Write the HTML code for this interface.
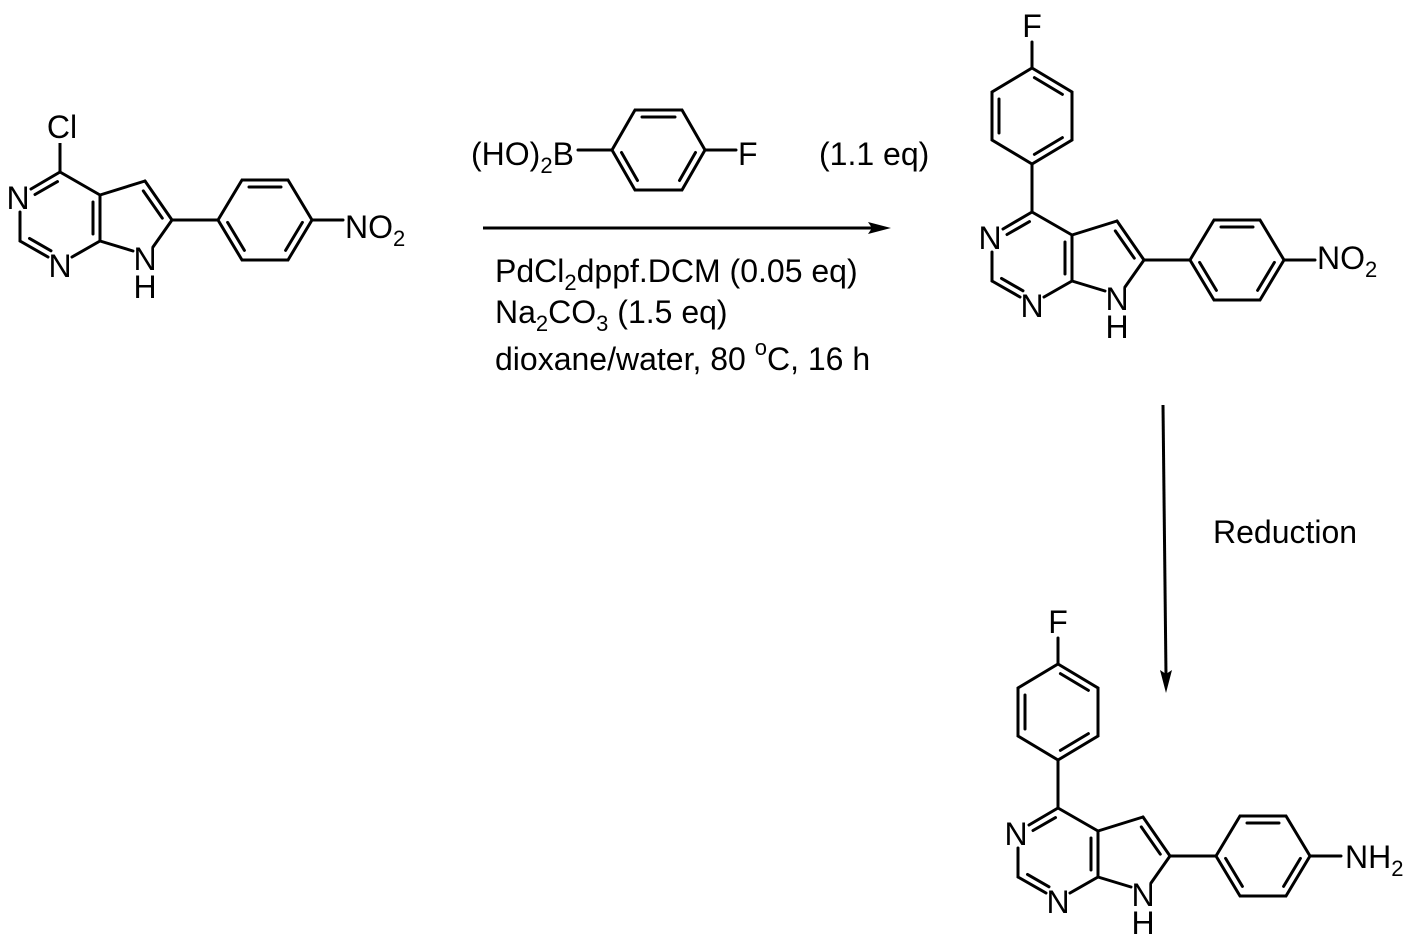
<!DOCTYPE html>
<html><head><meta charset="utf-8"><style>
html,body{margin:0;padding:0;background:#fff;}
svg{display:block;}
text{font-family:"Liberation Sans",Arial,sans-serif;fill:#000;}
</style></head><body>
<svg width="1414" height="945" viewBox="0 0 1414 945" xmlns="http://www.w3.org/2000/svg">
<defs>
<g id="core" stroke="#000" stroke-width="3" fill="none" stroke-linecap="round">
  <line x1="60" y1="172" x2="31" y2="189"/>
  <line x1="57.5" y1="181.6" x2="35" y2="194.5"/>
  <line x1="20" y1="212" x2="20" y2="241"/>
  <line x1="20" y1="241" x2="48" y2="257"/>
  <line x1="29.5" y1="238.4" x2="51" y2="250.8"/>
  <line x1="72" y1="257" x2="100" y2="241"/>
  <line x1="100" y1="241" x2="100" y2="195"/>
  <line x1="93" y1="202" x2="93" y2="234"/>
  <line x1="100" y1="195" x2="60" y2="172"/>
  <line x1="100" y1="195" x2="145" y2="181"/>
  <line x1="145" y1="181" x2="172" y2="220"/>
  <line x1="143.3" y1="190.9" x2="162.3" y2="218.2"/>
  <line x1="172" y1="220" x2="153" y2="247"/>
  <line x1="100" y1="241" x2="133" y2="251"/>
  <line x1="172" y1="220" x2="218" y2="220"/>
  <polygon points="218,220 242,180 288,180 312,220 288,260 242,260"/>
  <line x1="249" y1="187" x2="281" y2="187"/>
  <line x1="227.6" y1="222.4" x2="244.4" y2="250.4"/>
  <line x1="302.4" y1="222.4" x2="285.6" y2="250.4"/>
  <line x1="312" y1="220" x2="343" y2="220"/>
</g>
<g id="fph" stroke="#000" stroke-width="3" fill="none" stroke-linecap="round">
  <polygon points="60,28 100,52 100,100 60,124 20,100 20,52"/>
  <line x1="62.4" y1="37.6" x2="90.4" y2="54.4"/>
  <line x1="27" y1="59" x2="27" y2="93"/>
  <line x1="90.4" y1="97.6" x2="62.4" y2="114.4"/>
  <line x1="60" y1="124" x2="60" y2="172"/>
  <line x1="60" y1="28" x2="60" y2="2"/>
</g>
<g id="labels" font-size="32" text-anchor="middle">
  <text x="18" y="209">N</text>
  <text x="60" y="277">N</text>
  <text x="145" y="270">N</text>
  <text x="145" y="298">H</text>
</g>
</defs>

<use href="#core"/>
<use href="#labels"/>
<line x1="60" y1="172" x2="60" y2="143" stroke="#000" stroke-width="3"/>
<text x="62" y="138" font-size="32" text-anchor="middle">Cl</text>
<text x="345" y="238" font-size="32">NO<tspan font-size="22" dy="8">2</tspan></text>

<text x="471" y="165" font-size="32">(HO)<tspan font-size="22" dy="8">2</tspan><tspan dy="-8">B</tspan></text>
<g stroke="#000" stroke-width="3" fill="none" stroke-linecap="round">
  <line x1="578" y1="150" x2="612" y2="150"/>
  <polygon points="612,150 635,110 682,110 705,150 682,190 635,190"/>
  <line x1="642" y1="117" x2="675" y2="117"/>
  <line x1="621.5" y1="152.5" x2="637.5" y2="180.5"/>
  <line x1="695.5" y1="152.5" x2="679.5" y2="180.5"/>
  <line x1="705" y1="150" x2="736" y2="150"/>
</g>
<text x="738" y="165" font-size="32">F</text>
<text x="819" y="165" font-size="32">(1.1 eq)</text>

<line x1="483" y1="228" x2="875" y2="228" stroke="#000" stroke-width="3"/>
<polygon points="891,228 868,222 872,228 868,234" fill="#000"/>
<text x="495" y="282" font-size="32">PdCl<tspan font-size="22" dy="8">2</tspan><tspan dy="-8">dppf.DCM (0.05 eq)</tspan></text>
<text x="495" y="323" font-size="32">Na<tspan font-size="22" dy="8">2</tspan><tspan dy="-8">CO</tspan><tspan font-size="22" dy="8">3</tspan><tspan dy="-8"> (1.5 eq)</tspan></text>
<text x="495" y="370" font-size="32">dioxane/water, 80 <tspan font-size="22" dy="-15">o</tspan><tspan dy="15">C, 16 h</tspan></text>

<g transform="translate(972,40)">
  <use href="#core"/>
  <use href="#fph"/>
  <use href="#labels"/>
  <text x="60" y="-3" font-size="32" text-anchor="middle">F</text>
  <text x="345" y="229" font-size="32">NO<tspan font-size="22" dy="8">2</tspan></text>
</g>

<line x1="1163" y1="405" x2="1166" y2="676" stroke="#000" stroke-width="3"/>
<polygon points="1166,693 1160,670 1166,674 1172,670" fill="#000"/>
<text x="1213" y="543" font-size="32">Reduction</text>

<g transform="translate(998,636)">
  <use href="#core"/>
  <use href="#fph"/>
  <use href="#labels"/>
  <text x="60" y="-3" font-size="32" text-anchor="middle">F</text>
  <text x="347" y="232" font-size="32">NH<tspan font-size="22" dy="8">2</tspan></text>
</g>
</svg>
</body></html>
